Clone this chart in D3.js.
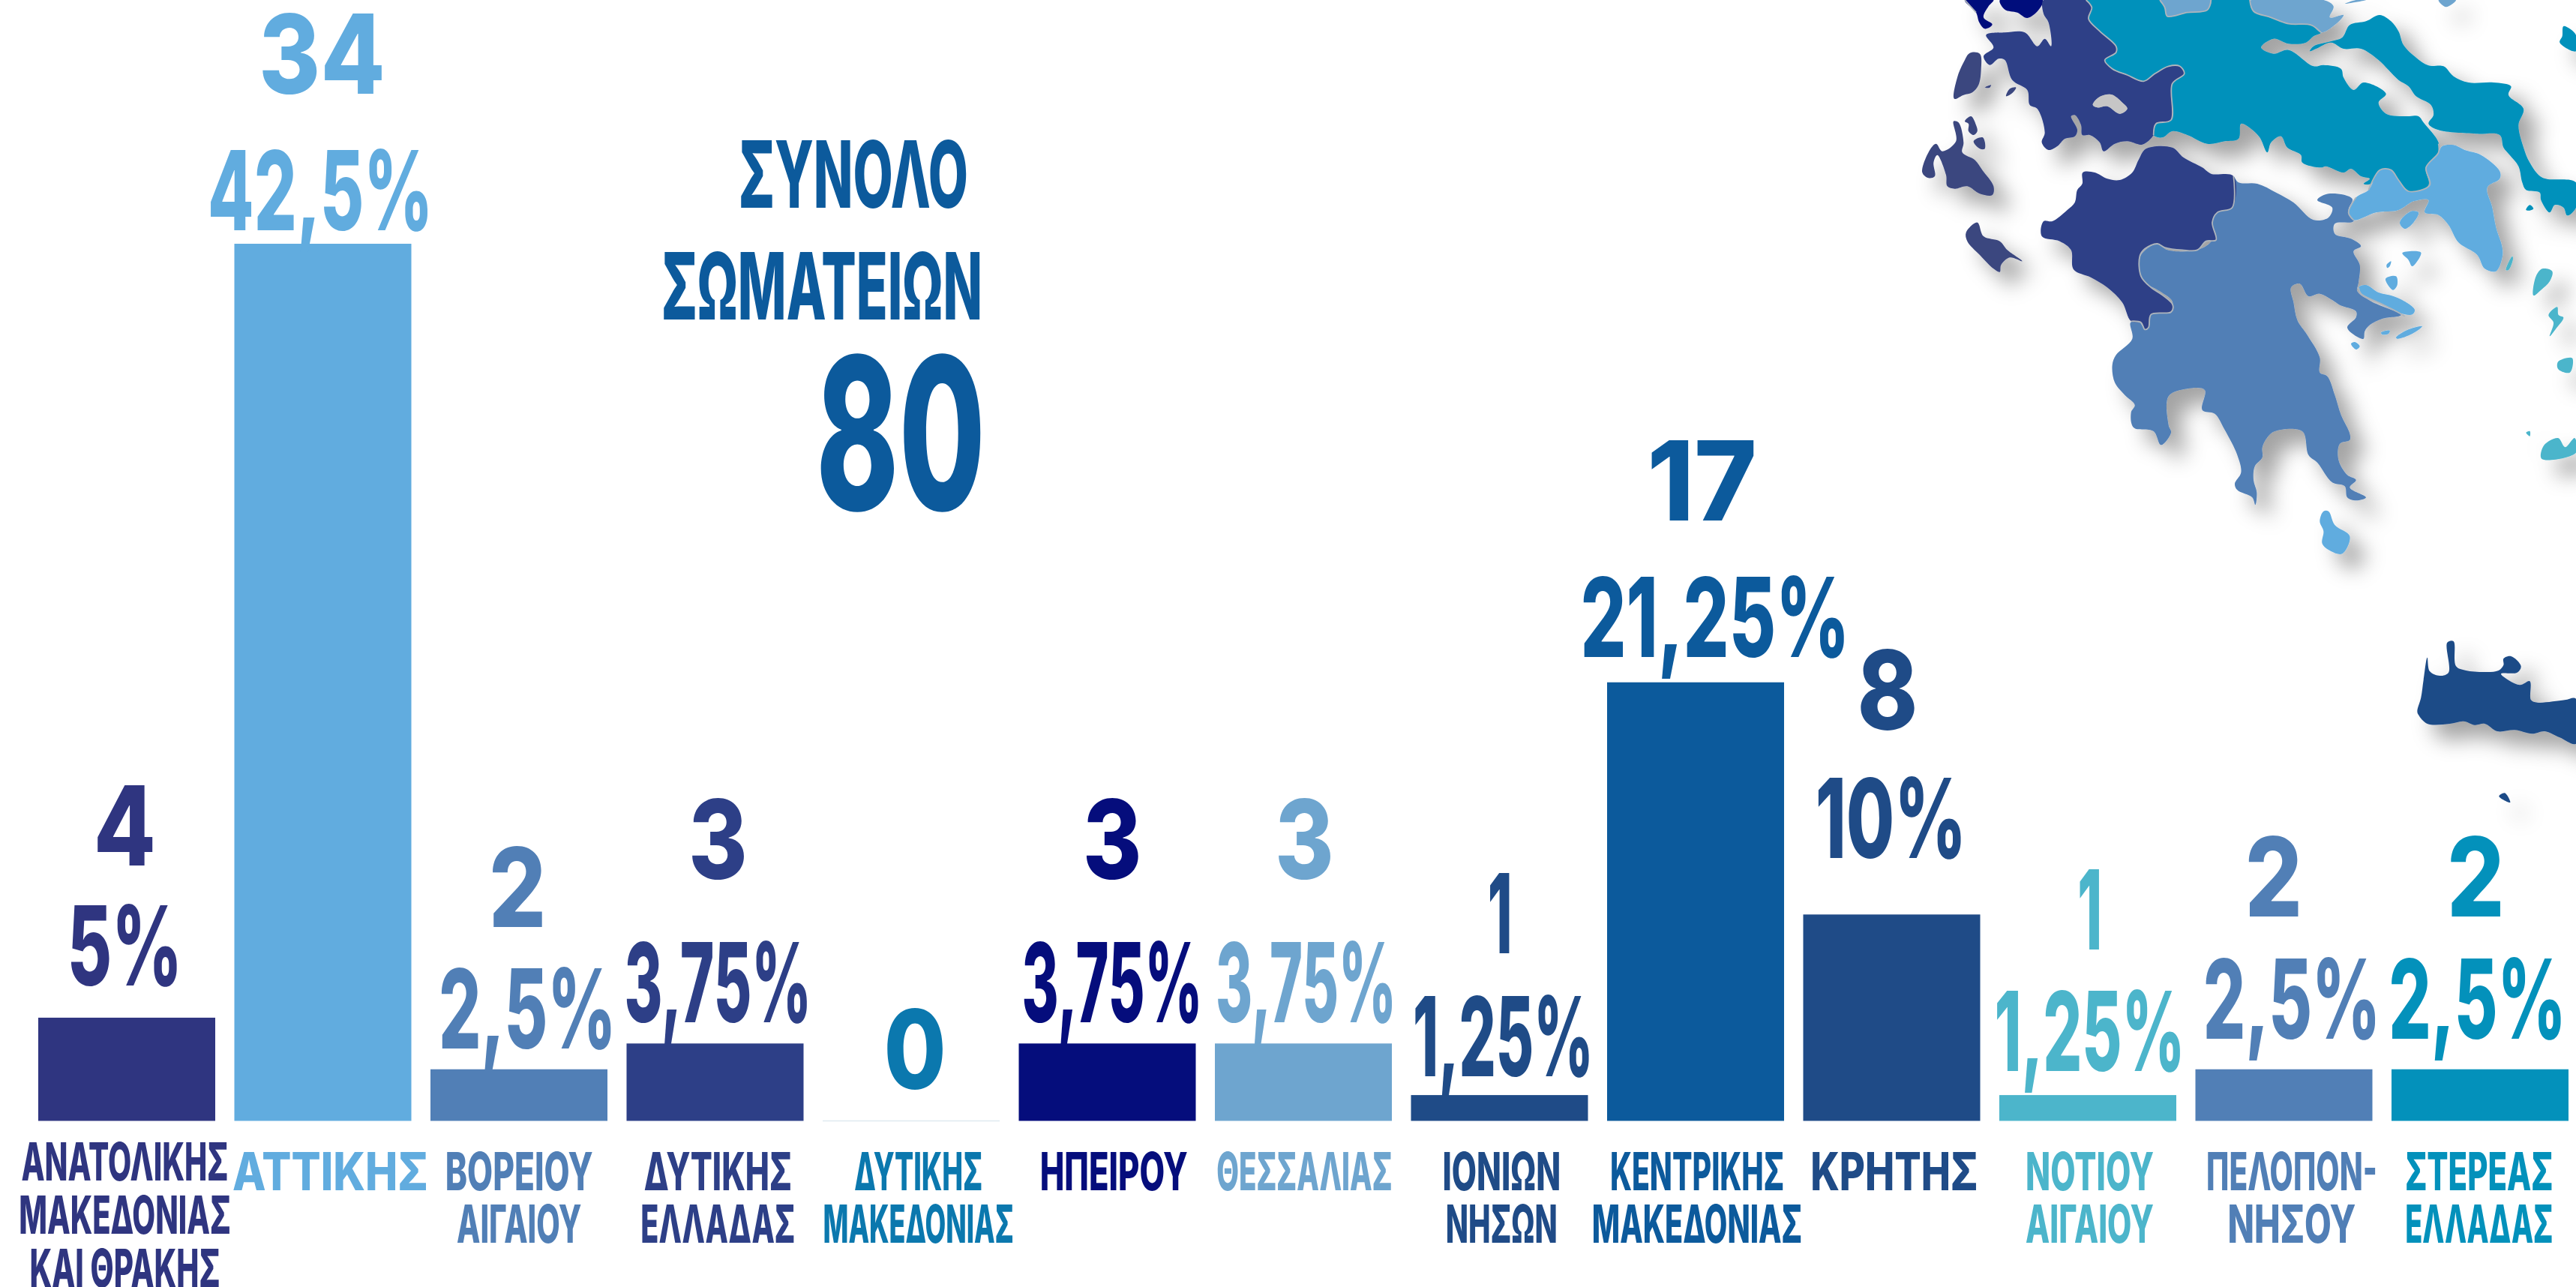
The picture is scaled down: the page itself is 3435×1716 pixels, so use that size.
<!DOCTYPE html>
<html><head><meta charset="utf-8">
<script src="https://cdn.jsdelivr.net/npm/d3@7/dist/d3.min.js"></script>
<style>html,body{margin:0;padding:0;background:#fff;overflow:hidden}svg{display:block}text{font-family:Inter,"Noto Sans",sans-serif}</style>
</head><body><svg id="c" width="3435" height="1716" viewBox="0 0 3435 1716"></svg>
<script>
// ---- chart data ----
const regions = ["ΑΝΑΤΟΛΙΚΗΣ ΜΑΚΕΔΟΝΙΑΣ ΚΑΙ ΘΡΑΚΗΣ","ΑΤΤΙΚΗΣ","ΒΟΡΕΙΟΥ ΑΙΓΑΙΟΥ","ΔΥΤΙΚΗΣ ΕΛΛΑΔΑΣ","ΔΥΤΙΚΗΣ ΜΑΚΕΔΟΝΙΑΣ","ΗΠΕΙΡΟΥ","ΘΕΣΣΑΛΙΑΣ","ΙΟΝΙΩΝ ΝΗΣΩΝ","ΚΕΝΤΡΙΚΗΣ ΜΑΚΕΔΟΝΙΑΣ","ΚΡΗΤΗΣ","ΝΟΤΙΟΥ ΑΙΓΑΙΟΥ","ΠΕΛΟΠΟΝ- ΝΗΣΟΥ","ΣΤΕΡΕΑΣ ΕΛΛΑΔΑΣ"];
const labelLines = [["ΑΝΑΤΟΛΙΚΗΣ","ΜΑΚΕΔΟΝΙΑΣ","ΚΑΙ ΘΡΑΚΗΣ"],["ΑΤΤΙΚΗΣ"],["ΒΟΡΕΙΟΥ","ΑΙΓΑΙΟΥ"],["ΔΥΤΙΚΗΣ","ΕΛΛΑΔΑΣ"],["ΔΥΤΙΚΗΣ","ΜΑΚΕΔΟΝΙΑΣ"],["ΗΠΕΙΡΟΥ"],["ΘΕΣΣΑΛΙΑΣ"],["ΙΟΝΙΩΝ","ΝΗΣΩΝ"],["ΚΕΝΤΡΙΚΗΣ","ΜΑΚΕΔΟΝΙΑΣ"],["ΚΡΗΤΗΣ"],["ΝΟΤΙΟΥ","ΑΙΓΑΙΟΥ"],["ΠΕΛΟΠΟΝ-","ΝΗΣΟΥ"],["ΣΤΕΡΕΑΣ","ΕΛΛΑΔΑΣ"]];
const counts = [4,34,2,3,0,3,3,1,17,8,1,2,2];
const percents = ["5%","42,5%","2,5%","3,75%",null,"3,75%","3,75%","1,25%","21,25%","10%","1,25%","2,5%","2,5%"];
const total = 80;
const titleLines = ["ΣΥΝΟΛΟ","ΣΩΜΑΤΕΙΩΝ"];

// ---- styling ----
const colors = ["#2f3580","#61acdf","#517fb6","#2d3f87","#0b78ae","#050d7c","#6ea5cf","#1f4b87","#0c5a9c","#1f4b87","#4cb5cb","#517fb6","#0391bb"];
const FONT_W = 800;

// ---- label layout, in the 1568-wide preview's units ----
const u = d3.scaleLinear().domain([0,1568]).range([0,3435]);
const countX = [76,196,315,437,557,677,794,913,1036,1149,1272,1384,1507];
const countBase = [527,57,564,535,663,535,535,580,317,444,578,558,558];
const countW = [38,77,35,36,38,36,36,15,67,37,15,35,35];
const pctX = [76,195,321,437,0,677,795,915,1044,1151,1272,1395,1508];
const pctBase = [600,140,638,622,0,622,622,655,400,522,652,632,632];
const pctW = [70,137,108,114,0,110,110,110,164,92,116,108,108];
const lblX = [76,201,316,437,559,678,794,914,1033,1153,1272,1395,1509];
const lblW = [[126,129,116],[119],[90,76],[90,94],[78,116],[90],[107],[72,68],[106,128],[102],[78,78],[104,78],[90,90]];

// ---- map outlines; each group uses its own crop's scales ----
// crop A, left part of the map
const epirusA = [[240,0],[355,0],[335,25],[315,70],[350,98],[320,115],[298,90],[285,50]];
const epirusB = [[380,0],[552,0],[535,40],[490,72],[450,50],[400,38]];
const aetolia = [[555,0],[725,0],[748,30],[735,75],[780,125],[845,185],[845,210],[800,240],[830,275],[890,300],[955,325],[1000,295],[1055,265],[1100,265],[1118,295],[1070,335],[1065,480],[1005,495],[995,540],[950,578],[890,565],[840,575],[795,605],[780,570],[740,540],[710,540],[705,500],[680,460],[665,465],[690,520],[680,545],[640,555],[610,585],[575,600],[548,570],[560,530],[530,435],[500,420],[490,360],[430,320],[400,240],[375,235],[340,260],[315,225],[355,190],[325,140],[400,130],[480,130],[530,185],[560,155],[585,185],[575,90],[555,55]];
const lake = [[752,420],[775,390],[825,378],[870,410],[890,435],[860,455],[810,425],[770,430]];
const westPelop = [[965,595],[1070,590],[1115,630],[1190,670],[1225,695],[1315,705],[1310,830],[1250,850],[1230,890],[1245,960],[1205,965],[1170,1000],[1110,1000],[1040,990],[1010,975],[960,995],[940,1025],[945,1105],[985,1150],[1030,1180],[1072,1220],[1065,1248],[985,1258],[975,1310],[960,1318],[945,1290],[905,1285],[870,1210],[810,1150],[745,1110],[675,1078],[665,1000],[620,965],[548,945],[555,885],[590,885],[650,840],[680,810],[690,760],[710,735],[712,690],[760,690],[810,715],[860,720],[910,690],[935,640]];
const lefkada = [[260,212],[300,215],[305,280],[295,340],[270,370],[235,380],[198,395],[210,310],[235,250]];
const meganisi = [[405,385],[420,355],[445,350],[430,372]];
const kalamos = [[320,350],[345,340],[340,350]];
const kefalonia = [[195,485],[215,490],[235,570],[230,610],[280,640],[310,680],[355,745],[350,780],[300,775],[250,745],[200,755],[170,745],[165,700],[130,620],[115,650],[120,705],[95,712],[70,690],[100,600],[125,575],[150,605],[205,565]];
const ithacaN = [[240,485],[265,465],[285,500],[290,525],[275,540],[255,525],[255,495]];
const ithacaS = [[275,565],[312,550],[320,595],[300,595]];
const zakynthos = [[290,890],[315,945],[380,965],[410,1000],[470,1045],[420,1030],[385,1060],[380,1088],[355,1075],[300,1020],[250,965],[245,930]];
const thessalyA = [[1020,0],[1225,0],[1210,40],[1130,50],[1050,65],[1040,30]];
// crop B, upper right
const stereaMain = [[-610,0],[-587,30],[-600,75],[-555,125],[-490,185],[-490,210],[-535,240],[-505,275],[-445,300],[-380,325],[-335,295],[-280,265],[-235,265],[-217,295],[-265,335],[-270,480],[-330,495],[-340,540],[-305,550],[-265,525],[-205,540],[-125,575],[-55,565],[0,555],[10,495],[50,515],[85,550],[115,610],[130,570],[170,545],[195,590],[250,620],[255,650],[330,670],[350,665],[420,690],[450,675],[490,705],[525,715],[500,735],[530,735],[565,680],[610,680],[640,720],[680,765],[700,770],[760,740],[750,670],[800,610],[800,570],[740,490],[720,465],[680,465],[590,455],[560,410],[590,375],[500,330],[460,360],[420,310],[410,275],[340,260],[300,265],[200,200],[140,215],[90,190],[140,155],[200,175],[270,170],[300,145],[330,130],[290,100],[200,95],[130,70],[60,45],[45,0]];
const thessalyB = [[50,0],[340,0],[380,25],[365,70],[420,60],[385,100],[330,130],[290,100],[200,95],[130,70],[60,45]];
const thessalyC = [[425,15],[470,0],[510,0],[450,12]];
const thessalyD = [[800,0],[870,0],[830,28]];
const euboea = [[285,205],[300,185],[370,165],[415,150],[445,100],[510,85],[565,60],[610,85],[640,125],[660,180],[710,230],[760,262],[820,265],[860,305],[920,330],[1020,330],[1090,345],[1080,380],[1140,435],[1120,500],[1140,590],[1165,650],[1215,710],[1350,730],[1350,830],[1315,862],[1300,830],[1265,820],[1245,850],[1210,800],[1205,770],[1150,760],[1135,730],[1120,665],[1085,620],[1060,590],[1045,540],[950,535],[800,520],[760,495],[780,460],[770,420],[710,385],[680,345],[640,320],[600,280],[560,240],[490,195],[420,195],[370,170],[310,195]];
const petalioi = [[1150,840],[1165,820],[1180,835],[1165,842]];
const skyros = [[1300,105],[1350,140],[1350,205],[1285,170],[1295,145]];
const attica = [[815,585],[860,580],[905,600],[970,620],[1045,685],[1045,715],[995,750],[1015,830],[1030,910],[1055,990],[1055,1030],[1030,1085],[985,1075],[955,1020],[880,970],[840,900],[800,860],[745,850],[760,800],[700,805],[640,840],[550,850],[460,880],[440,850],[470,790],[520,760],[565,680],[610,680],[680,765],[765,740],[750,670],[800,610]];
const salamis = [[645,890],[690,845],[720,850],[700,890],[665,915]];
const aegina = [[655,1012],[730,1010],[695,1065],[680,1040]];
const agkistri = [[592,1060],[610,1045],[605,1065],[595,1072]];
const poros = [[588,1115],[630,1105],[635,1140],[618,1160]];
const troezen = [[480,1150],[510,1140],[560,1170],[620,1185],[680,1215],[705,1240],[695,1258],[640,1250],[560,1210],[490,1175]];
const makronisos = [[1070,1080],[1095,1025],[1098,1035],[1080,1080]];
const kea = [[1190,1105],[1215,1075],[1255,1085],[1245,1125],[1210,1160],[1180,1182]];
const kythnos = [[1240,1260],[1275,1228],[1280,1260],[1300,1270],[1270,1315],[1245,1345],[1260,1290]];
// crop C, lower middle
const peloponnese = [[615,-230],[690,-225],[765,-190],[835,-150],[915,-80],[975,-90],[990,-130],[930,-160],[975,-185],[1070,-165],[1055,-120],[1075,-75],[1000,-65],[1000,-25],[1065,-5],[1105,25],[1075,45],[1100,100],[1095,170],[1090,205],[1145,245],[1265,300],[1190,315],[1140,340],[1120,365],[1115,395],[1095,390],[1050,350],[1085,310],[1085,285],[1020,260],[990,240],[940,215],[895,225],[860,175],[825,190],[835,250],[850,320],[890,380],[940,470],[940,530],[970,545],[1000,620],[1025,700],[1060,775],[1060,800],[1020,815],[1015,880],[1050,940],[1085,960],[1060,990],[1125,1030],[1085,1042],[1050,1030],[1040,985],[990,970],[930,890],[895,860],[870,765],[760,765],[730,790],[710,830],[710,870],[680,905],[675,960],[688,1010],[682,1060],[670,1030],[610,1000],[600,975],[625,930],[610,860],[560,760],[520,695],[470,680],[480,600],[410,595],[335,625],[335,740],[345,770],[305,820],[275,765],[195,750],[185,690],[200,660],[160,620],[120,570],[110,500],[125,460],[190,395],[183,330],[215,325],[240,355],[255,350],[268,295],[345,290],[350,245],[300,205],[235,165],[218,110],[225,60],[290,15],[330,40],[450,40],[510,0],[510,-70],[530,-110],[590,-130],[594,-255]];
const hydra = [[1245,390],[1290,360],[1350,345],[1310,375],[1250,395]];
const dokos = [[1185,370],[1220,362],[1215,375],[1190,378]];
const spetses = [[1065,415],[1080,408],[1100,425],[1085,438]];
const kythera = [[955,1085],[975,1085],[1000,1140],[1060,1185],[1030,1255],[985,1245],[950,1215],[955,1165],[940,1125]];
// crop D, the far south-east islands
const milos = [[1530,995],[1560,985],[1555,1025],[1530,1015]];
const santorini = [[1500,1225],[1530,1205],[1545,1230],[1565,1205],[1568,1245],[1495,1262]];
const folegandros = [[1462,1190],[1470,1186],[1470,1200]];
// crop E, Crete
const crete = [[370,385],[385,330],[395,260],[410,170],[420,225],[460,243],[495,230],[490,110],[515,105],[525,205],[565,222],[650,228],[695,222],[715,200],[715,175],[745,165],[785,205],[770,230],[705,235],[780,280],[820,265],[825,340],[850,350],[960,340],[1005,335],[1005,515],[940,490],[880,465],[830,475],[760,460],[690,465],[640,435],[600,440],[555,425],[500,435],[410,435],[375,400]];
const gavdos = [[697,725],[720,712],[742,750]];
// internal region borders
const bordersA = [
  [[1315,705],[1310,830],[1250,850],[1230,890],[1245,960],[1205,965],[1170,1000],[1110,1000],[1040,990],[1010,975],[960,995],[940,1025],[945,1105],[985,1150],[1030,1180],[1072,1220],[1065,1248],[985,1258],[975,1310],[960,1318],[945,1290],[905,1285]],
  [[725,0],[748,30],[735,75],[780,125],[845,185],[845,210],[800,240],[830,275],[890,300],[955,325],[1000,295],[1055,265],[1100,265],[1118,295],[1070,335],[1065,480],[1005,495],[995,540]],
  [[1020,0],[1040,30],[1050,65],[1130,50],[1210,40],[1225,0]],
  [[240,0],[285,50]]
];
const bordersB = [
  [[800,575],[800,610],[750,670],[765,740],[680,765],[640,720],[610,680],[565,680],[520,760]],
  [[45,0],[60,45],[130,70],[200,95],[290,100],[330,130]],
  [[470,790],[440,850],[460,880]],
  [[480,1150],[490,1175],[560,1210],[640,1250],[665,1265]]
];

const svg = d3.select("#c");
const f = svg.append("defs").append("filter").attr("id","sh").attr("filterUnits","userSpaceOnUse")
  .attr("x",2400).attr("y",-60).attr("width",1100).attr("height",1300);
f.append("feDropShadow").attr("dx",20).attr("dy",20).attr("stdDeviation",14).attr("flood-color","#000").attr("flood-opacity",0.36);

// ---- map ----
const cropScale = (ox,oy,w,h,dw,dh)=>d3.line()
  .x((s=>d=>s(d[0]))(d3.scaleLinear().domain([0,dw]).range([ox,ox+w])))
  .y((s=>d=>s(d[1]))(d3.scaleLinear().domain([0,dh]).range([oy,oy+h])))
  .curve(d3.curveCatmullRomClosed.alpha(0.5));
const lineA = cropScale(2540,0,450,450,1350,1350);
const lineB = cropScale(2985,0,450,450,1350,1350);
const lineC = cropScale(2780,320,450,450,1350,1350);
const lineD = cropScale(2450,0,985,760,1568,1568);
const lineE = cropScale(3100,820,335,280,1005,840);
const open = l => l.curve(d3.curveCatmullRom.alpha(0.5));

const W="#2d3f87",IO="#3a467f",ST="#0391bb",TH="#6ea5cf",AT="#61acdf",PE="#517fb6",SA="#4cb5cb",EP="#050d7c",KR="#1f4b87";
const mapShapes = [
 [lineA,kefalonia,IO],[lineA,zakynthos,IO],[lineA,lefkada,IO],[lineA,ithacaN,IO],[lineA,ithacaS,IO],[lineA,meganisi,IO],[lineA,kalamos,IO],
 [lineB,stereaMain,ST],[lineB,euboea,ST],[lineB,skyros,ST],[lineB,petalioi,ST],
 [lineA,thessalyA,TH],[lineB,thessalyB,TH],[lineB,thessalyC,TH],[lineB,thessalyD,TH],
 [lineA,epirusA,EP],[lineA,epirusB,EP],
 [lineC,peloponnese,PE],[lineA,westPelop,W],
 [lineB,attica,AT],[lineB,salamis,AT],[lineB,aegina,AT],[lineB,agkistri,AT],[lineB,poros,AT],[lineB,troezen,AT],[lineC,hydra,AT],[lineC,dokos,AT],[lineC,spetses,AT],[lineC,kythera,AT],
 [lineB,makronisos,SA],[lineB,kea,SA],[lineB,kythnos,SA],[lineD,milos,SA],[lineD,santorini,SA],[lineD,folegandros,SA],
 [lineE,crete,KR],[lineE,gavdos,KR]
];
const mapG = svg.append("g").attr("filter","url(#sh)");
mapG.selectAll("path.m").data(mapShapes).join("path").attr("class","m").attr("d",d=>d[0](d[1])).attr("fill",d=>d[2]);
mapG.append("path").attr("fill-rule","evenodd").attr("fill",W).attr("d",lineA(aetolia)+lineA(lake));
svg.append("path").attr("d",lineA(lake)).attr("fill","#c6c6c6");
const borderA = open(cropScale(2540,0,450,450,1350,1350));
const borderB = open(cropScale(2985,0,450,450,1350,1350));
const bd = svg.append("g").attr("fill","none").attr("stroke","#aeb5bc").attr("stroke-width",1.8);
bd.selectAll("path.a").data(bordersA).join("path").attr("class","a").attr("d",borderA);
bd.selectAll("path.b").data(bordersB).join("path").attr("class","b").attr("d",borderB);

// ---- bars ----
const x = d3.scaleBand().domain(regions).range([51,3425]).paddingInner(0.0975).paddingOuter(0);
const y = d3.scaleLinear().domain([0,34]).range([1494.5,325]);
svg.append("g").selectAll("rect").data(regions).join("rect")
  .attr("x",d=>x(d)).attr("width",x.bandwidth())
  .attr("y",(d,i)=>y(counts[i])).attr("height",(d,i)=>y(0)-y(counts[i]))
  .attr("fill",(d,i)=>colors[i]);
svg.append("line").attr("x1",x(regions[4])).attr("x2",x(regions[4])+x.bandwidth()).attr("y1",y(0)).attr("y2",y(0)).attr("stroke","#dfe9f0").attr("stroke-width",1.5);

function fit(sel,w){ return sel.attr("textLength",w).attr("lengthAdjust","spacingAndGlyphs"); }
const t = svg.append("g").attr("text-anchor","middle").attr("font-weight",FONT_W);

counts.forEach((c,i)=>{
  fit(t.append("text").attr("x",u(countX[i])).attr("y",u(countBase[i])).attr("font-size",147).attr("fill",colors[i]).text(c),u(countW[i]));
  if(percents[i]) fit(t.append("text").attr("x",u(pctX[i])).attr("y",u(pctBase[i])).attr("font-size",147).attr("fill",colors[i]).text(percents[i]),u(pctW[i]));
  const lines = labelLines[i];
  const first = lines.length===3 ? 1574 : 1587;
  const step = lines.length===3 ? 71 : 70;
  lines.forEach((ln,k)=>{
    fit(t.append("text").attr("x",u(lblX[i])).attr("y",first+k*step).attr("font-size",70).attr("fill",colors[i]).text(ln),u(lblW[i][k]));
  });
});

fit(t.append("text").attr("x",1138).attr("y",277).attr("font-size",124).attr("fill","#0c5a9c").text(titleLines[0]),306);
fit(t.append("text").attr("x",1096).attr("y",426).attr("font-size",124).attr("fill","#0c5a9c").text(titleLines[1]),428);
fit(t.append("text").attr("x",1201).attr("y",680).attr("font-size",283).attr("fill","#0c5a9c").text(total),226);
</script></body></html>
